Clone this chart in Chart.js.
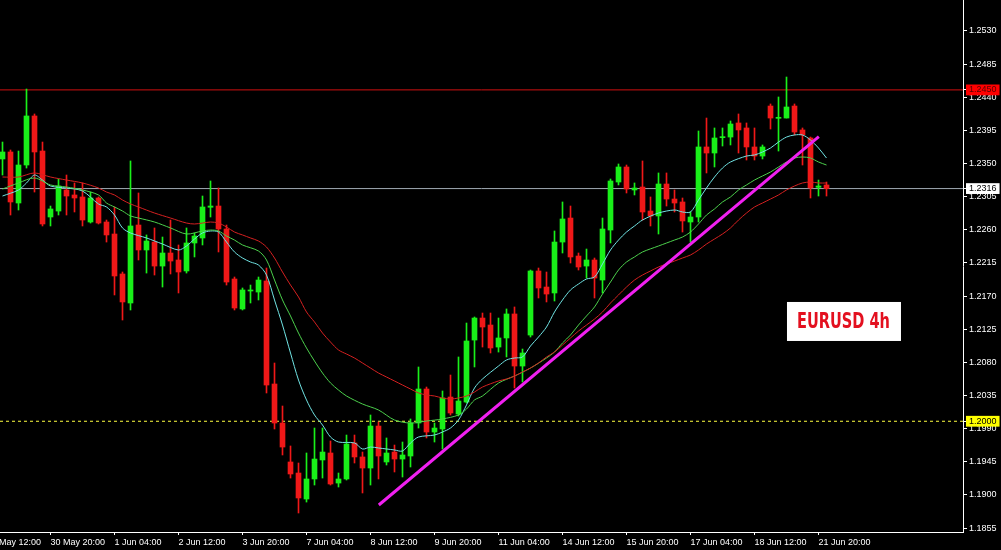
<!DOCTYPE html>
<html>
<head>
<meta charset="utf-8">
<script src="https://cdn.jsdelivr.net/npm/chart.js@4.4.0/dist/chart.umd.min.js"></script>
<style>
  html, body { margin: 0; padding: 0; background: #000; overflow: hidden; }
  canvas { display: block; }
</style>
</head>
<body>
<canvas id="chart" width="1001" height="550"></canvas>
<script>
// EURUSD H4 candles, one per index (index 0 = leftmost bar)
const opens = [1.23562, 1.23657, 1.22964, 1.23480, 1.24146, 1.23670, 1.22774, 1.22855, 1.23141, 1.23073,
  1.23046, 1.22706, 1.23032, 1.22706, 1.22543, 1.22000, 1.21606, 1.22665, 1.22326, 1.22434,
  1.22108, 1.22285, 1.22190, 1.22041, 1.22421, 1.22489, 1.22906, 1.22923, 1.22611, 1.21932,
  1.21525, 1.21769, 1.21755, 1.21905, 1.20506, 1.19976, 1.19447, 1.19297, 1.18944, 1.19216,
  1.19474, 1.19569, 1.19161, 1.19216, 1.19705, 1.19515, 1.19365, 1.19935, 1.19447, 1.19582,
  1.19487, 1.19528, 1.19976, 1.20438, 1.19854, 1.19895, 1.20329, 1.20098, 1.20261, 1.21103,
  1.21402, 1.21307, 1.21008, 1.21131, 1.21457, 1.20750, 1.21171, 1.22041, 1.21823, 1.21742,
  1.22434, 1.22760, 1.22244, 1.22108, 1.22190, 1.21918, 1.22597, 1.23249, 1.23453, 1.23141,
  1.23181, 1.22855, 1.22788, 1.23222, 1.23018, 1.22978, 1.22706, 1.22774, 1.23725, 1.23643,
  1.23851, 1.23860, 1.24051, 1.23983, 1.23725, 1.23602, 1.24281, 1.24114, 1.24118, 1.24281,
  1.23956, 1.23847, 1.23177, 1.23209];
const highs = [1.23792, 1.23684, 1.23670, 1.24512, 1.24173, 1.23792, 1.22923, 1.23290, 1.23344, 1.23236,
  1.23236, 1.23113, 1.23046, 1.22733, 1.22910, 1.22027, 1.23535, 1.23100, 1.22530, 1.22625,
  1.22502, 1.22733, 1.22394, 1.22625, 1.22557, 1.23059, 1.23263, 1.23168, 1.22665, 1.21959,
  1.21810, 1.21850, 1.21959, 1.22081, 1.20791, 1.20207, 1.19664, 1.19433, 1.19569, 1.19908,
  1.19908, 1.19732, 1.19297, 1.19813, 1.19813, 1.19582, 1.20085, 1.19990, 1.19773, 1.19677,
  1.19718, 1.20031, 1.20737, 1.20465, 1.19976, 1.20411, 1.20628, 1.20873, 1.21334, 1.21416,
  1.21470, 1.21470, 1.21402, 1.21525, 1.21552, 1.20981, 1.22054, 1.22081, 1.22027, 1.22584,
  1.22978, 1.22923, 1.22285, 1.22339, 1.22217, 1.22760, 1.23290, 1.23494, 1.23480, 1.23236,
  1.23535, 1.23046, 1.23372, 1.23372, 1.23141, 1.23032, 1.22842, 1.23942, 1.24118, 1.23983,
  1.23983, 1.24078, 1.24173, 1.24051, 1.23983, 1.23752, 1.24309, 1.24404, 1.24675, 1.24309,
  1.23983, 1.23860, 1.23276, 1.23249];
const lows = [1.23344, 1.22801, 1.22869, 1.23439, 1.23113, 1.22652, 1.22652, 1.22801, 1.22801, 1.22842,
  1.22652, 1.22692, 1.22679, 1.22434, 1.21715, 1.21375, 1.21511, 1.22190, 1.22013, 1.21986,
  1.21823, 1.22000, 1.21742, 1.22013, 1.22231, 1.22394, 1.22774, 1.22299, 1.21850, 1.21511,
  1.21511, 1.21606, 1.21647, 1.20384, 1.19895, 1.19542, 1.19229, 1.18754, 1.18903, 1.19134,
  1.19229, 1.19134, 1.19107, 1.19202, 1.19433, 1.19026, 1.19134, 1.19216, 1.19406, 1.19311,
  1.19243, 1.19379, 1.19908, 1.19773, 1.19718, 1.19623, 1.20085, 1.20071, 1.20248, 1.20737,
  1.21008, 1.20927, 1.20940, 1.20873, 1.20452, 1.20533, 1.21144, 1.21674, 1.21620, 1.21633,
  1.22285, 1.22149, 1.22054, 1.21945, 1.21674, 1.21742, 1.22421, 1.23209, 1.23100, 1.23073,
  1.22733, 1.22652, 1.22543, 1.22923, 1.22842, 1.22570, 1.22434, 1.22706, 1.23372, 1.23453,
  1.23738, 1.23752, 1.23643, 1.23548, 1.23548, 1.23562, 1.23969, 1.23670, 1.24118, 1.23888,
  1.23480, 1.23032, 1.23059, 1.23059];
const closes = [1.23657, 1.22978, 1.23480, 1.24146, 1.23657, 1.22679, 1.22883, 1.23195, 1.23059, 1.23032,
  1.22733, 1.23032, 1.22692, 1.22530, 1.21973, 1.21620, 1.22652, 1.22326, 1.22448, 1.22108,
  1.22285, 1.22176, 1.22027, 1.22421, 1.22516, 1.22910, 1.22923, 1.22611, 1.21891, 1.21538,
  1.21783, 1.21783, 1.21918, 1.20492, 1.19976, 1.19650, 1.19284, 1.18958, 1.19216, 1.19487,
  1.19582, 1.19148, 1.19216, 1.19691, 1.19515, 1.19365, 1.19935, 1.19528, 1.19569, 1.19487,
  1.19542, 1.19976, 1.20438, 1.19854, 1.19908, 1.20316, 1.20112, 1.20275, 1.21090, 1.21402,
  1.21280, 1.20995, 1.21131, 1.21457, 1.20750, 1.20927, 1.22041, 1.21810, 1.21728, 1.22434,
  1.22747, 1.22231, 1.22095, 1.22190, 1.21945, 1.22611, 1.23263, 1.23453, 1.23154, 1.23168,
  1.22842, 1.22788, 1.23222, 1.23018, 1.22964, 1.22720, 1.22774, 1.23725, 1.23643, 1.23847,
  1.23865, 1.24037, 1.23956, 1.23725, 1.23602, 1.23725, 1.24118, 1.24128, 1.24268, 1.23928,
  1.23888, 1.23168, 1.23195, 1.23160];

// moving averages: [bar index, price]
const fastMa = [[0,1.23059],[2,1.23141],[3,1.23236],[4,1.23344],[5,1.23276],[6,1.23195],[8,1.23168],[10,1.23127],
  [12,1.22951],[13,1.22910],[14,1.22801],[15,1.22625],[16,1.22557],[18,1.22489],[20,1.22407],[22,1.22326],
  [23,1.22380],[24,1.22475],[25,1.22557],[26,1.22584],[27,1.22570],[28,1.22434],[29,1.22299],[30,1.22217],
  [31,1.22163],[32,1.22122],[33,1.21986],[34,1.21647],[35,1.21307],[36,1.20927],[37,1.20560],[38,1.20289],
  [39,1.20085],[40,1.19949],[41,1.19786],[42,1.19718],[44,1.19705],[45,1.19623],[46,1.19650],[47,1.19637],
  [49,1.19610],[50,1.19596],[51,1.19705],[52,1.19786],[54,1.19813],[55,1.19854],[56,1.19908],[57,1.20017],
  [58,1.20221],[59,1.20452],[60,1.20574],[62,1.20750],[63,1.20832],[64,1.20859],[65,1.20873],[66,1.21022],
  [67,1.21144],[68,1.21280],[69,1.21484],[70,1.21647],[71,1.21783],[72,1.21864],[73,1.21932],[74,1.21959],
  [75,1.22136],[76,1.22326],[77,1.22461],[78,1.22570],[79,1.22652],[80,1.22733],[82,1.22828],[84,1.22869],
  [85,1.22842],[86,1.22842],[87,1.23005],[88,1.23168],[89,1.23317],[90,1.23439],[91,1.23521],[93,1.23602],
  [94,1.23616],[95,1.23657],[96,1.23711],[97,1.23792],[98,1.23860],[99,1.23888],[100,1.23888],[101,1.23820],
  [102,1.23711],[103,1.23575]];
const midMa = [[0,1.23154],[2,1.23236],[4,1.23304],[6,1.23209],[8,1.23181],[10,1.23141],[12,1.23073],[13,1.22964],
  [14,1.22910],[15,1.22855],[16,1.22788],[17,1.22760],[19,1.22706],[21,1.22625],[23,1.22543],[25,1.22584],
  [26,1.22597],[27,1.22584],[28,1.22516],[29,1.22461],[30,1.22394],[32,1.22312],[33,1.22190],[34,1.21918],
  [35,1.21647],[36,1.21430],[37,1.21198],[38,1.20995],[39,1.20818],[40,1.20655],[41,1.20520],[42,1.20424],
  [43,1.20343],[45,1.20234],[47,1.20153],[49,1.20017],[51,1.19976],[53,1.20003],[55,1.20031],[57,1.20085],
  [58,1.20166],[59,1.20289],[60,1.20343],[62,1.20519],[64,1.20614],[66,1.20723],[68,1.20859],[69,1.20940],
  [70,1.21063],[71,1.21171],[72,1.21307],[73,1.21430],[74,1.21552],[75,1.21728],[76,1.21891],[77,1.22054],
  [78,1.22163],[79,1.22231],[80,1.22299],[82,1.22380],[84,1.22461],[85,1.22502],[86,1.22570],[87,1.22679],
  [88,1.22801],[89,1.22883],[90,1.22978],[91,1.23046],[92,1.23141],[93,1.23209],[94,1.23276],[95,1.23331],
  [96,1.23385],[97,1.23453],[98,1.23521],[99,1.23575],[100,1.23589],[101,1.23575],[102,1.23521],[103,1.23480]];
const slowMa = [[0,1.23317],[2,1.23317],[4,1.23372],[6,1.23317],[8,1.23276],[10,1.23236],[12,1.23168],[13,1.23113],
  [14,1.23073],[15,1.23005],[16,1.22951],[17,1.22910],[19,1.22828],[21,1.22760],[23,1.22692],[24,1.22679],
  [25,1.22692],[26,1.22706],[27,1.22692],[28,1.22638],[29,1.22570],[30,1.22530],[31,1.22489],[32,1.22448],
  [33,1.22366],[34,1.22217],[35,1.22027],[36,1.21850],[37,1.21688],[38,1.21484],[39,1.21348],[40,1.21198],
  [41,1.21076],[42,1.20968],[43,1.20913],[44,1.20859],[45,1.20791],[46,1.20723],[47,1.20655],[48,1.20601],
  [49,1.20547],[50,1.20492],[51,1.20438],[52,1.20384],[53,1.20357],[54,1.20343],[55,1.20316],[56,1.20302],
  [57,1.20316],[58,1.20343],[59,1.20397],[60,1.20465],[62,1.20547],[63,1.20574],[64,1.20614],[65,1.20669],
  [66,1.20723],[67,1.20791],[68,1.20873],[69,1.20940],[70,1.21035],[71,1.21131],[72,1.21225],[73,1.21307],
  [74,1.21388],[75,1.21484],[76,1.21606],[77,1.21715],[78,1.21823],[79,1.21918],[80,1.21986],[81,1.22041],
  [82,1.22095],[83,1.22136],[84,1.22176],[85,1.22217],[86,1.22258],[87,1.22326],[88,1.22407],[89,1.22475],
  [90,1.22543],[91,1.22625],[92,1.22733],[93,1.22828],[94,1.22910],[95,1.22964],[96,1.23018],[97,1.23073],
  [98,1.23141],[99,1.23195],[100,1.23236],[101,1.23249],[102,1.23236],[103,1.23236]];

// hand-drawn trend line: two anchor points [bar index, price]
const trendLine = [[47.04, 1.18863], [102.04, 1.23865]];

// horizontal levels
const resistanceLevel = 1.2450;
const bidLevel = 1.2316;
const roundLevel = 1.2000;

// axis ticks
const xTickIdx = [-2, 6, 14, 22, 30, 38, 46, 54, 62, 70, 78, 86, 94, 102];
const xTickLabels = ['29 May 12:00', '30 May 20:00', '1 Jun 04:00', '2 Jun 12:00', '3 Jun 20:00', '7 Jun 04:00',
  '8 Jun 12:00', '9 Jun 20:00', '11 Jun 04:00', '14 Jun 12:00', '15 Jun 20:00', '17 Jun 04:00',
  '18 Jun 12:00', '21 Jun 20:00'];
const yTicks = [1.1855, 1.1900, 1.1945, 1.1990, 1.2035, 1.2080, 1.2125, 1.2170, 1.2215, 1.2260,
  1.2305, 1.2350, 1.2395, 1.2440, 1.2485, 1.2530];

// text label on the chart, anchored at [bar index, price]
const boxText = 'EURUSD 4h';
const boxAt = [98.06, 1.2162];

// visible window
const xMin = -0.3125, xMax = 120.0625;
const yMin = 1.18496, yMax = 1.25721;

const idx = opens.map((_, i) => i);
const candleColors = idx.map(i => closes[i] >= opens[i] ? '#19f019' : '#f01818');
const pts = arr => arr.map(([x, y]) => ({ x, y }));
const level = v => [{ x: xMin, y: v }, { x: xMax, y: v }];

const markLevels = [resistanceLevel, bidLevel, roundLevel];
const markBg = ['#ff0000', '#ffffff', '#ffff00'];
const markFg = ['#5a0000', '#000000', '#000000'];

// white text box, condensed red caption squeezed to the box width
const boxPlugin = {
  id: 'symbolBox',
  afterDatasetsDraw(chart) {
    const { ctx, scales: { x, y } } = chart;
    const left = x.getPixelForValue(boxAt[0]);
    const top = y.getPixelForValue(boxAt[1]);
    ctx.save();
    ctx.fillStyle = '#ffffff';
    ctx.fillRect(left, top, 114, 39);
    ctx.fillStyle = '#e3101f';
    ctx.font = "bold 21px 'DejaVu Sans', sans-serif";
    ctx.textBaseline = 'middle';
    const w = ctx.measureText(boxText).width;
    const sx = 93 / w;
    ctx.translate(left + 10, top + 21);
    ctx.scale(sx, 1);
    ctx.fillText(boxText, 0, 0);
    ctx.restore();
  }
};

Chart.defaults.font.family = "'Liberation Sans', sans-serif";
Chart.defaults.font.size = 9;

new Chart(document.getElementById('chart').getContext('2d'), {
  type: 'bar',
  data: {
    datasets: [
      { type: 'line', data: level(resistanceLevel), borderColor: '#d01010', borderWidth: 1, pointRadius: 0, order: 10 },
      { type: 'line', data: level(bidLevel), borderColor: '#9fa9b3', borderWidth: 1, pointRadius: 0, order: 10 },
      { type: 'line', data: level(roundLevel), borderColor: '#ffff40', borderWidth: 1, borderDash: [3, 3], pointRadius: 0, order: 10 },
      { type: 'bar', data: idx.map(i => ({ x: i, y: [lows[i], highs[i]] })), backgroundColor: candleColors,
        barThickness: 1, grouped: false, order: 6 },
      { type: 'bar', data: idx.map(i => ({ x: i, y: [opens[i], closes[i]] })), backgroundColor: candleColors,
        barThickness: 5, minBarLength: 1, grouped: false, order: 5 },
      { type: 'line', data: pts(slowMa), borderColor: '#d42020', borderWidth: 1, pointRadius: 0, tension: 0.3, order: 3 },
      { type: 'line', data: pts(midMa), borderColor: '#4cd04c', borderWidth: 1, pointRadius: 0, tension: 0.3, order: 3 },
      { type: 'line', data: pts(fastMa), borderColor: '#70e4e4', borderWidth: 1, pointRadius: 0, tension: 0.3, order: 3 },
      { type: 'line', data: pts(trendLine), borderColor: '#f020f0', borderWidth: 3, pointRadius: 0, order: 1 }
    ]
  },
  options: {
    responsive: false,
    animation: false,
    events: [],
    layout: { padding: 0 },
    plugins: { legend: { display: false }, tooltip: { enabled: false } },
    scales: {
      x: {
        type: 'linear', min: xMin, max: xMax, offset: false,
        grid: { display: true, offset: false, drawOnChartArea: false, drawTicks: true, tickLength: 3, color: '#ffffff' },
        border: { display: true, color: '#ffffff', width: 1 },
        ticks: {
          autoSkip: false, maxRotation: 0, align: 'start', padding: 2, color: '#ffffff',
          callback: v => xTickLabels[xTickIdx.indexOf(v)]
        },
        afterBuildTicks: s => { s.ticks = xTickIdx.map(v => ({ value: v })); },
        afterFit: s => { s.height = 18; s.paddingLeft = 0; s.paddingRight = 0; }
      },
      y: {
        position: 'right', min: yMin, max: yMax, offset: false,
        grid: { display: true, drawOnChartArea: false, drawTicks: true, tickLength: 4, color: '#ffffff' },
        border: { display: true, color: '#ffffff', width: 1 },
        ticks: {
          autoSkip: false, padding: 2,
          color: c => (c && c.index >= yTicks.length) ? markFg[c.index - yTicks.length] : '#ffffff',
          showLabelBackdrop: c => !!(c && c.index >= yTicks.length),
          backdropColor: c => (c && c.index >= yTicks.length) ? markBg[c.index - yTicks.length] : 'rgba(0,0,0,0)',
          backdropPadding: { top: 0, bottom: 0, left: 3, right: 3 },
          callback: v => v.toFixed(4)
        },
        afterBuildTicks: s => { s.ticks = yTicks.concat(markLevels).map(v => ({ value: v })); },
        afterFit: s => { s.width = 38; s.paddingTop = 0; s.paddingBottom = 0; }
      }
    }
  },
  plugins: [boxPlugin]
});
</script>
</body>
</html>
